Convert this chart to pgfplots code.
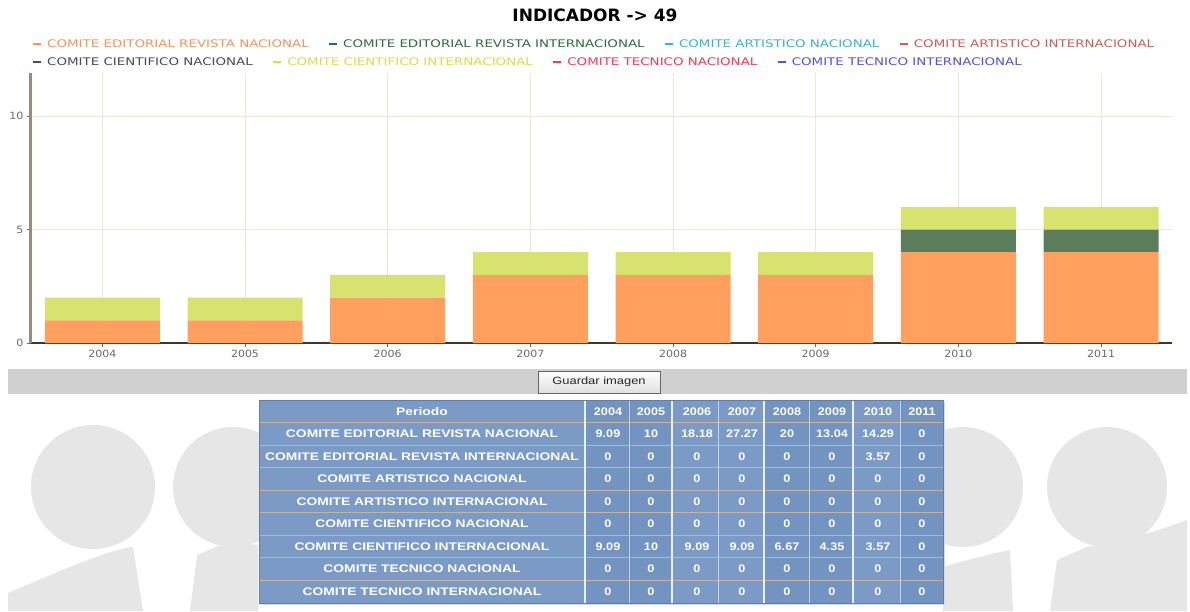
\documentclass[border=0pt]{standalone}
\usepackage{pgfplots}
\pgfplotsset{compat=1.18}
\usepackage{fontspec}
\setmainfont{DejaVu Sans}
\newfontfamily\arialfont{Liberation Sans}
\usetikzlibrary{calc}
\definecolor{barA}{HTML}{FFA05F}
\definecolor{barB}{HTML}{5A7D5C}
\definecolor{barF}{HTML}{D8E26E}
\definecolor{lc1}{HTML}{F5965C}
\definecolor{lc2}{HTML}{2F6B45}
\definecolor{lc3}{HTML}{3CB4C8}
\definecolor{lc4}{HTML}{C86058}
\definecolor{lc5}{HTML}{4A4A60}
\definecolor{lc6}{HTML}{D6E04A}
\definecolor{lc7}{HTML}{F03C5A}
\definecolor{lc8}{HTML}{5A4FE0}
\definecolor{yax}{HTML}{A08778}
\definecolor{xax}{HTML}{46342A}
\definecolor{gridc}{HTML}{F0E8D2}
\definecolor{tickg}{HTML}{6A6A6A}
\definecolor{wm}{HTML}{E6E6E6}
\definecolor{band}{HTML}{D0D0D0}
\definecolor{tblue}{HTML}{7C9AC6}
\definecolor{tblue2}{HTML}{7393C1}
\newcommand\legtext[1]{\scalebox{1.277}[1]{\fontsize{10.5}{12}\selectfont #1}}
\newcommand\tlab[1]{\scalebox{1.26}[1]{\arialfont\bfseries\fontsize{11}{12}\selectfont #1}}
\newcommand\tnum[1]{\scalebox{1.15}[1]{\arialfont\bfseries\fontsize{11}{12}\selectfont #1}}
\newcommand\tk[1]{\scalebox{1.1}[1]{\fontsize{10}{12}\selectfont #1}}
\begin{document}
\begin{tikzpicture}[x=1pt,y=1pt]
\fill[white] (0,0) rectangle (1190,611);
% watermark
\begin{scope}
\clip (0,0) rectangle (1190,611);
\fill[wm] (93,124) circle (62);
\fill[wm] (233,124) circle (60);
\fill[wm] (963,124) circle (60);
\fill[wm] (1107,124) circle (60);
\fill[wm] (8,0) -- (8,18) .. controls (60,40) and (110,62) .. (133,64) -- (143,0) -- cycle;
\fill[wm] (190,0) -- (197,56) -- (230,70) -- (258,66) -- (258,0) -- cycle;
\fill[wm] (943,0) -- (943,44) .. controls (970,52) and (995,58) .. (1010,61) -- (1013,0) -- cycle;
\fill[wm] (1050,0) -- (1057,51) -- (1087,64) .. controls (1130,70) and (1170,85) .. (1187,91) -- (1187,0) -- cycle;
\end{scope}
% band and button
\fill[band] (8,217) rectangle (1187,242);
\draw[draw=gray!80!black, top color=white, bottom color=gray!25] (538,218) rectangle (660,240);
\node[inner sep=0, text=black!85] at (599,229) {\scalebox{1.23}[1]{\arialfont\fontsize{10.5}{12}\selectfont Guardar imagen}};
% table
\fill[black!15] (261,6) rectangle (945,209);
\fill[tblue] (259,8) rectangle (943,211);
\fill[tblue2] (585,8) rectangle (943,211);
\fill[tblue] (672,8) rectangle (764,211);
\fill[tblue] (853,8) rectangle (900,211);
\foreach \k in {1,...,8} \draw[color={rgb,255:red,196;green,180;blue,160}, line width=0.7pt] (259,211-22.5*\k) -- (943,211-22.5*\k);
\foreach \xx in {629,718,809,900} \draw[color=white!55!tblue, line width=0.7pt] (\xx,8) -- (\xx,211);
\foreach \xx in {585,672,764,853} \draw[color=white!85!tblue, line width=1.4pt] (\xx,8) -- (\xx,211);
\draw[color={rgb,255:red,100;green,125;blue,160}, line width=1pt] (259,8) rectangle (943,211);
\foreach \lab/\a/\b/\c/\d/\e/\f/\g/\h [count=\r from 0] in {
Periodo/2004/2005/2006/2007/2008/2009/2010/2011,
COMITE EDITORIAL REVISTA NACIONAL/9.09/10/18.18/27.27/20/13.04/14.29/0,
COMITE EDITORIAL REVISTA INTERNACIONAL/0/0/0/0/0/0/3.57/0,
COMITE ARTISTICO NACIONAL/0/0/0/0/0/0/0/0,
COMITE ARTISTICO INTERNACIONAL/0/0/0/0/0/0/0/0,
COMITE CIENTIFICO NACIONAL/0/0/0/0/0/0/0/0,
COMITE CIENTIFICO INTERNACIONAL/9.09/10/9.09/9.09/6.67/4.35/3.57/0,
COMITE TECNICO NACIONAL/0/0/0/0/0/0/0/0,
COMITE TECNICO INTERNACIONAL/0/0/0/0/0/0/0/0}
{
\pgfmathsetmacro\yy{199.75-22.5*\r}
\begin{scope}[every node/.style={inner sep=0, text=white}]
\node at (422,\yy) {\tlab{\lab}};
\node at (608,\yy) {\tnum{\a}};
\node at (651,\yy) {\tnum{\b}};
\node at (697,\yy) {\tnum{\c}};
\node at (742,\yy) {\tnum{\d}};
\node at (787,\yy) {\tnum{\e}};
\node at (832,\yy) {\tnum{\f}};
\node at (878,\yy) {\tnum{\g}};
\node at (922,\yy) {\tnum{\h}};
\end{scope}
}
% chart
\begin{axis}[
  at={(31pt,268pt)}, anchor=south west,
  scale only axis, width=1141.4pt, height=270pt,
  xmin=-0.5, xmax=7.5, ymin=0, ymax=11.9,
  axis x line*=bottom, axis y line*=left,
  x axis line style={-, draw=xax, line width=1.3pt},
  y axis line style={-, draw=yax, line width=3pt},
  xtick={0,1,2,3,4,5,6,7},
  xticklabels={\tk{2004},\tk{2005},\tk{2006},\tk{2007},\tk{2008},\tk{2009},\tk{2010},\tk{2011}},
  ytick={0,5,10},
  yticklabels={\tk{0},\tk{5},\tk{10}},
  ticklabel style={text=tickg},
  tick align=outside,
  major tick length=4pt,
  tick style={draw=tickg, line width=0.8pt},
  xmajorgrids, ymajorgrids,
  grid style={draw=gridc, line width=0.9pt},
  ybar stacked, bar width=115pt,
]
\addplot[fill=barA, draw=none] coordinates {(0,1) (1,1) (2,2) (3,3) (4,3) (5,3) (6,4) (7,4)};
\addplot[fill=barB, draw=none] coordinates {(0,0) (1,0) (2,0) (3,0) (4,0) (5,0) (6,1) (7,1)};
\addplot[fill=lc3, draw=none] coordinates {(0,0) (1,0) (2,0) (3,0) (4,0) (5,0) (6,0) (7,0)};
\addplot[fill=lc4, draw=none] coordinates {(0,0) (1,0) (2,0) (3,0) (4,0) (5,0) (6,0) (7,0)};
\addplot[fill=lc5, draw=none] coordinates {(0,0) (1,0) (2,0) (3,0) (4,0) (5,0) (6,0) (7,0)};
\addplot[fill=barF, draw=none] coordinates {(0,1) (1,1) (2,1) (3,1) (4,1) (5,1) (6,1) (7,1)};
\addplot[fill=lc7, draw=none] coordinates {(0,0) (1,0) (2,0) (3,0) (4,0) (5,0) (6,0) (7,0)};
\addplot[fill=lc8, draw=none] coordinates {(0,0) (1,0) (2,0) (3,0) (4,0) (5,0) (6,0) (7,0)};
\end{axis}
% title
\node[inner sep=0] at (595,596) {\fontsize{17}{20}\selectfont\bfseries INDICADOR -> 49};
% legend row 1
\coordinate (s1) at (33,567);
\draw[lc1, line width=1.8pt] (s1) -- ++(8,0);
\node[anchor=west, inner sep=0, text=lc1] (l1) at ($(s1)+(14,0)$) {\legtext{COMITE EDITORIAL REVISTA NACIONAL}};
\coordinate (s2) at ($(l1.east)+(20,0)$);
\draw[lc2, line width=1.8pt] (s2) -- ++(8,0);
\node[anchor=west, inner sep=0, text=lc2] (l2) at ($(s2)+(14,0)$) {\legtext{COMITE EDITORIAL REVISTA INTERNACIONAL}};
\coordinate (s3) at ($(l2.east)+(20,0)$);
\draw[lc3, line width=1.8pt] (s3) -- ++(8,0);
\node[anchor=west, inner sep=0, text=lc3] (l3) at ($(s3)+(14,0)$) {\legtext{COMITE ARTISTICO NACIONAL}};
\coordinate (s4) at ($(l3.east)+(20,0)$);
\draw[lc4, line width=1.8pt] (s4) -- ++(8,0);
\node[anchor=west, inner sep=0, text=lc4] (l4) at ($(s4)+(14,0)$) {\legtext{COMITE ARTISTICO INTERNACIONAL}};
% legend row 2
\coordinate (s5) at (33,549);
\draw[lc5, line width=1.8pt] (s5) -- ++(8,0);
\node[anchor=west, inner sep=0, text=lc5] (l5) at ($(s5)+(14,0)$) {\legtext{COMITE CIENTIFICO NACIONAL}};
\coordinate (s6) at ($(l5.east)+(20,0)$);
\draw[lc6, line width=1.8pt] (s6) -- ++(8,0);
\node[anchor=west, inner sep=0, text=lc6] (l6) at ($(s6)+(14,0)$) {\legtext{COMITE CIENTIFICO INTERNACIONAL}};
\coordinate (s7) at ($(l6.east)+(20,0)$);
\draw[lc7, line width=1.8pt] (s7) -- ++(8,0);
\node[anchor=west, inner sep=0, text=lc7] (l7) at ($(s7)+(14,0)$) {\legtext{COMITE TECNICO NACIONAL}};
\coordinate (s8) at ($(l7.east)+(20,0)$);
\draw[lc8, line width=1.8pt] (s8) -- ++(8,0);
\node[anchor=west, inner sep=0, text=lc8] (l8) at ($(s8)+(14,0)$) {\legtext{COMITE TECNICO INTERNACIONAL}};
\pgfresetboundingbox
\path[use as bounding box] (0,0) rectangle (1190,611);
\end{tikzpicture}
\end{document}
